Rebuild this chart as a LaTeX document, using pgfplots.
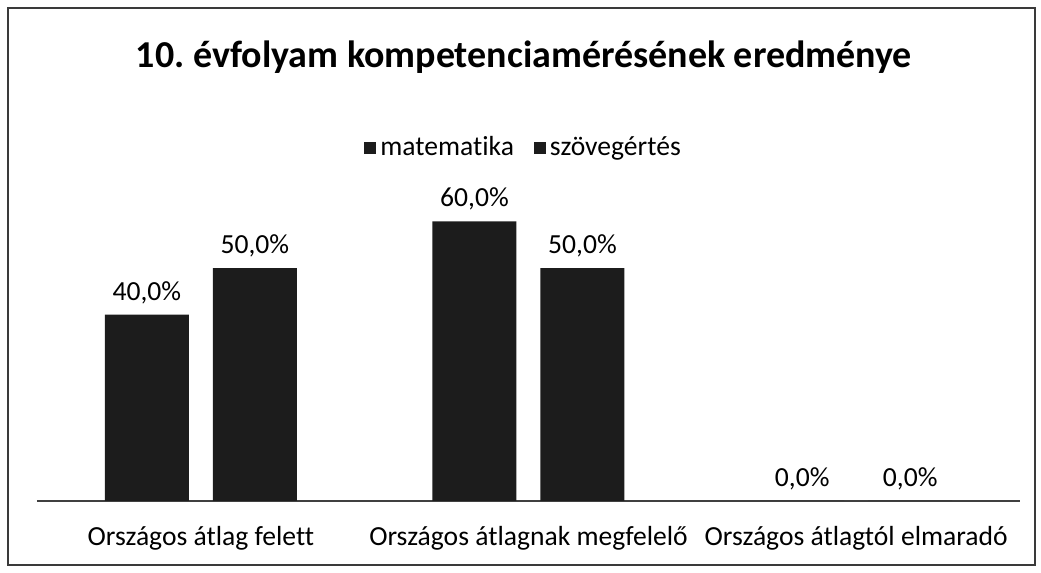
\documentclass[border=0pt]{standalone}
\usepackage{pgfplots}
\pgfplotsset{compat=1.18}
\usepackage{fontspec}
\setmainfont{Carlito}[Ligatures=NoCommon]
\frenchspacing

\definecolor{barfill}{HTML}{1C1C1C}
\definecolor{framecol}{HTML}{3A3A3A}

\begin{document}
\begin{tikzpicture}
% 1 px of the reference = 0.5pt
\path[use as bounding box] (0,0) rectangle (520.5pt,286.5pt);
\draw[framecol, line width=1pt] (4pt,4pt) rectangle (517.5pt,282.5pt);

\node[font=\fontsize{19}{22}\selectfont\bfseries] at (262pt,258pt)
  {10. évfolyam kompetenciamérésének eredménye};

\begin{axis}[
    at={(18.5pt,36pt)},
    anchor=south west,
    scale only axis,
    width=491.5pt,
    height=163.1pt,
    ybar,
    bar width=42pt,
    xmin=-0.5, xmax=2.5,
    ymin=0, ymax=70,
    axis x line*=bottom,
    axis y line=none,
    axis line style={black!75, line width=0.8pt},
    xtick=data,
    xtick style={draw=none},
    xticklabels={Országos átlag felett, Országos átlagnak megfelelő, Országos átlagtól elmaradó},
    xticklabel style={font=\fontsize{13.8}{16}\selectfont, yshift=-5pt},
    /pgf/number format/assume math mode=true,
    nodes near coords={\pgfmathprintnumber[fixed,fixed zerofill,precision=1,use comma]{\pgfplotspointmeta}\%},
    every node near coord/.append style={font=\fontsize{13.8}{16}\selectfont, yshift=2pt},
    legend columns=2,
    legend style={draw=none, fill=none, at={(0.496,1.083)}, anchor=center,
      font=\fontsize{13.8}{16}\selectfont,
      /tikz/every even column/.append style={column sep=8pt}},
    legend image code/.code={\fill[barfill] (0pt,-3pt) rectangle (6pt,3pt);},
]
\addplot[fill=barfill, draw=none, bar shift=-27pt] coordinates {(0,40) (1,60) (2,0)};
\addplot[fill=barfill, draw=none, bar shift=27pt] coordinates {(0,50) (1,50) (2,0)};
\legend{matematika, szövegértés}
\end{axis}
\end{tikzpicture}
\end{document}
